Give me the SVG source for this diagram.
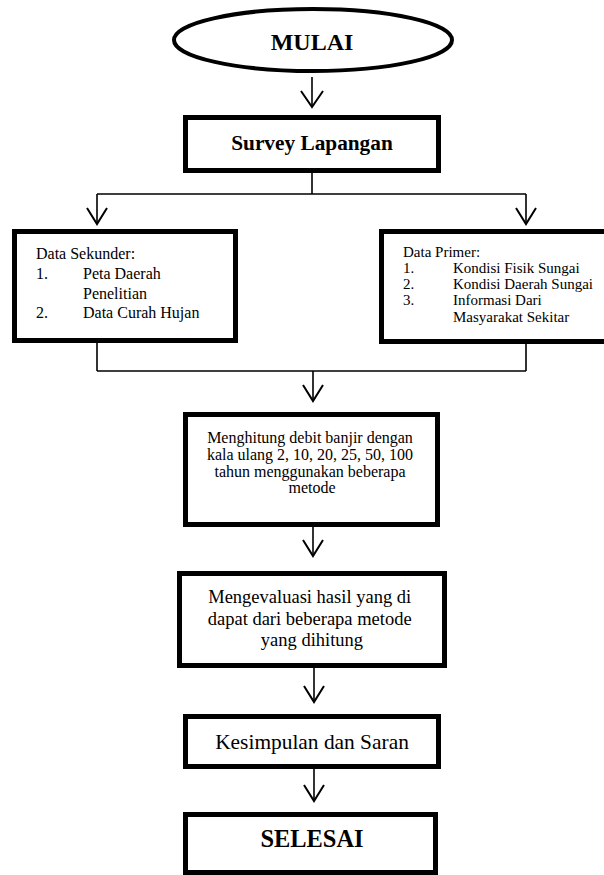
<svg xmlns="http://www.w3.org/2000/svg" width="604" height="875" viewBox="0 0 604 875">
<style>
.box{fill:#fff;stroke:#000;stroke-width:5}
.ln{fill:none;stroke:#000;stroke-width:1.6}
.ar{fill:none;stroke:#000;stroke-width:2}
text{font-family:"Liberation Serif","Times New Roman",serif;fill:#000}
.b{font-weight:bold}
.c{text-anchor:middle}
</style>
<rect width="604" height="875" fill="#fff"/>
<g id="connectors">
<path class="ln" d="M312,77V107"/>
<path class="ar" d="M301,91L312,107L323,91"/>
<path class="ln" d="M312,173V194M97,194H526M97,194V224M526,194V224"/>
<path class="ar" d="M87,208L97,224L107,208M516,208L526,224L536,208"/>
<path class="ln" d="M97,343V371M526,344V371M97,371H526M313,371V401"/>
<path class="ar" d="M303,385L313,401L323,385"/>
<path class="ln" d="M313,527V556"/>
<path class="ar" d="M303,540L313,556L323,540"/>
<path class="ln" d="M314,668V702"/>
<path class="ar" d="M304,686L314,702L324,686"/>
<path class="ln" d="M314,769V801"/>
<path class="ar" d="M304,785L314,801L324,785"/>
</g>
<g id="mulai">
<ellipse cx="313" cy="40" rx="139" ry="31" fill="#fff" stroke="#000" stroke-width="4"/>
<text x="312" y="50" class="b c" font-size="24">MULAI</text>
</g>
<g id="survey">
<rect class="box" x="185.5" y="117.5" width="253" height="53"/>
<text x="312" y="150" class="b c" font-size="21.3">Survey Lapangan</text>
</g>
<g id="sekunder">
<rect class="box" x="14.5" y="231.5" width="221" height="109"/>
<text font-size="16">
<tspan x="36" y="259">Data Sekunder:</tspan>
<tspan x="36" y="279">1.</tspan><tspan x="83" y="279">Peta Daerah</tspan>
<tspan x="83" y="299">Penelitian</tspan>
<tspan x="36" y="318">2.</tspan><tspan x="83" y="318">Data Curah Hujan</tspan>
</text>
</g>
<g id="primer">
<rect class="box" x="381.5" y="231.5" width="230" height="110"/>
<text font-size="15">
<tspan x="403" y="257">Data Primer:</tspan>
<tspan x="403" y="273">1.</tspan><tspan x="453" y="273">Kondisi Fisik Sungai</tspan>
<tspan x="403" y="289">2.</tspan><tspan x="453" y="289">Kondisi Daerah Sungai</tspan>
<tspan x="403" y="305">3.</tspan><tspan x="453" y="305">Informasi Dari</tspan>
<tspan x="453" y="322">Masyarakat Sekitar</tspan>
</text>
</g>
<g id="hitung">
<rect class="box" x="185.5" y="414.5" width="252" height="110"/>
<text class="c" font-size="16">
<tspan x="312" y="443">Menghitung debit banjir dengan</tspan>
<tspan x="312" y="460">kala ulang 2, 10, 20, 25, 50, 100</tspan>
<tspan x="312" y="477">tahun menggunakan beberapa</tspan>
<tspan x="312" y="493">metode</tspan>
</text>
</g>
<g id="evaluasi">
<rect class="box" x="179.5" y="573.5" width="265" height="92"/>
<text class="c" font-size="18.5">
<tspan x="312" y="603">Mengevaluasi hasil yang di</tspan>
<tspan x="312" y="625">dapat dari beberapa metode</tspan>
<tspan x="312" y="646">yang dihitung</tspan>
</text>
</g>
<g id="kesimpulan">
<rect class="box" x="185.5" y="716.5" width="253" height="50"/>
<text x="312" y="749" class="c" font-size="21.4">Kesimpulan dan Saran</text>
</g>
<g id="selesai">
<rect class="box" x="185.5" y="814.5" width="250" height="58"/>
<text x="312" y="847" class="b c" font-size="24.4">SELESAI</text>
</g>
</svg>
